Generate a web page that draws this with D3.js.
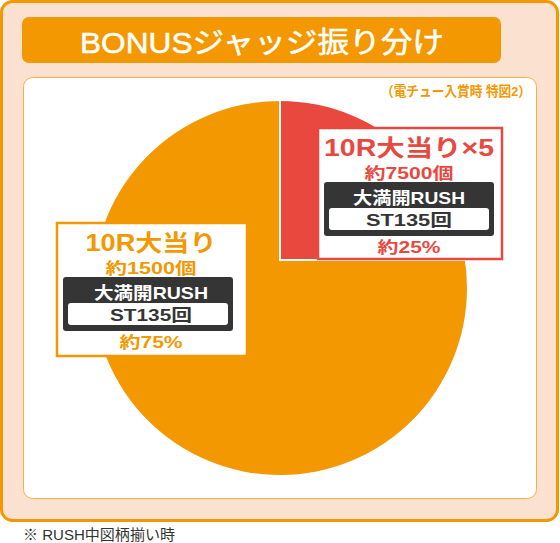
<!DOCTYPE html>
<html>
<head>
<meta charset="utf-8">
<script src="https://cdn.jsdelivr.net/npm/d3@7"></script>
<style>
    html, body { margin: 0; padding: 0; background: #ffffff; }
    svg { display: block; }
    text { font-family: "Liberation Sans", "Noto Sans CJK JP", sans-serif; }
</style>
</head>
<body>
<svg id="chart" width="560" height="543"></svg>
<script>
// chart data (slice order: clockwise from 12 o'clock)
const categories = ['10R大当り×5', '10R大当り'];
const shares = [25, 75];
const payouts = ['約7500個', '約1500個'];
const modes = ['大満開RUSH', '大満開RUSH'];
const stLabels = ['ST135回', 'ST135回'];
const shareLabels = ['約25%', '約75%'];
const sliceColors = ['#e9483f', '#f39800'];

const title = 'BONUSジャッジ振り分け';
const subtitle = '（電チュー入賞時 特図2）';
const footnote = '※ RUSH中図柄揃い時';

// label card layout (x, y = top left) and text widths
const cards = [
    {x: 318, y: 128, w: 184, h: 131, widths: [170, 89, 112, 86, 63]},
    {x: 57, y: 223, w: 190, h: 133, widths: [131, 91, 114, 82, 63]}
];

const svg = d3.select('#chart');
const ORANGE = '#f39800';
const DARK = '#353535';

const addText = (parent, x, y, size, weight, fill, str, len, anchor = 'middle') => {
    const t = parent.append('text')
        .attr('x', x).attr('y', y)
        .attr('text-anchor', anchor)
        .attr('font-size', size)
        .attr('font-weight', weight)
        .attr('fill', fill)
        .text(str);
    if (len) {
        t.attr('textLength', len).attr('lengthAdjust', 'spacingAndGlyphs');
    }
    return t;
};

// outer frame
svg.append('rect')
    .attr('x', 1.5).attr('y', 1.5)
    .attr('width', 556).attr('height', 519)
    .attr('rx', 11)
    .attr('fill', '#fbe2d0')
    .attr('stroke', ORANGE)
    .attr('stroke-width', 3);

// title bar
svg.append('rect')
    .attr('x', 22).attr('y', 17)
    .attr('width', 479).attr('height', 46)
    .attr('rx', 7)
    .attr('fill', ORANGE);
addText(svg, 262, 53, 29, 400, '#ffffff', title, 364)
    .attr('stroke', '#ffffff')
    .attr('stroke-width', 0.5);

// white panel
svg.append('rect')
    .attr('x', 23.5).attr('y', 77.5)
    .attr('width', 513).attr('height', 421)
    .attr('rx', 9)
    .attr('fill', '#ffffff')
    .attr('stroke', '#f6b24a')
    .attr('stroke-width', 1);

addText(svg, 531, 95.5, 13.5, 700, ORANGE, subtitle, 150, 'end');

// pie
const split = {x: 280, y: 260};
const disc = {x: 280, y: 288, r: 187};
const gap = 1.4;

svg.append('clipPath')
    .attr('id', 'disc-clip')
    .append('circle')
    .attr('cx', disc.x).attr('cy', disc.y).attr('r', disc.r);

const pie = d3.pie().sort(null).value((d) => d);
const arcs = pie(shares);
const arc = d3.arc().innerRadius(0).outerRadius(420);

svg.append('g')
    .attr('clip-path', 'url(#disc-clip)')
    .selectAll('path')
    .data(arcs)
    .enter()
    .append('path')
    .attr('transform', (d) => {
        const mid = (d.startAngle + d.endAngle) / 2;
        const dx = Math.sin(mid) * gap;
        const dy = -Math.cos(mid) * gap;
        return `translate(${split.x + dx}, ${split.y + dy})`;
    })
    .attr('d', arc)
    .attr('fill', (d, i) => sliceColors[i]);

// label cards
cards.forEach((c, i) => {
    const color = sliceColors[i];
    const cx = c.x + c.w / 2 - 1;
    const g = svg.append('g');
    g.append('rect')
        .attr('x', c.x).attr('y', c.y)
        .attr('width', c.w).attr('height', c.h)
        .attr('fill', '#ffffff')
        .attr('stroke', color)
        .attr('stroke-width', 2.5);
    addText(g, cx, c.y + 28, 23, 700, color, categories[i], c.widths[0]);
    addText(g, cx, c.y + 50.5, 16, 700, color, payouts[i], c.widths[1]);
    g.append('rect')
        .attr('x', c.x + 6).attr('y', c.y + 54)
        .attr('width', 170).attr('height', 54)
        .attr('rx', 3)
        .attr('fill', DARK);
    addText(g, cx, c.y + 75.5, 17, 700, '#ffffff', modes[i], c.widths[2]);
    g.append('rect')
        .attr('x', c.x + 11).attr('y', c.y + 80)
        .attr('width', 160).attr('height', 22)
        .attr('rx', 3)
        .attr('fill', '#ffffff');
    addText(g, cx, c.y + 97.5, 17, 700, DARK, stLabels[i], c.widths[3]);
    addText(g, cx, c.y + 125, 16, 700, color, shareLabels[i], c.widths[4]);
});

addText(svg, 23, 539.5, 14.5, 400, '#333333', footnote, 152, 'start');
</script>
</body>
</html>
